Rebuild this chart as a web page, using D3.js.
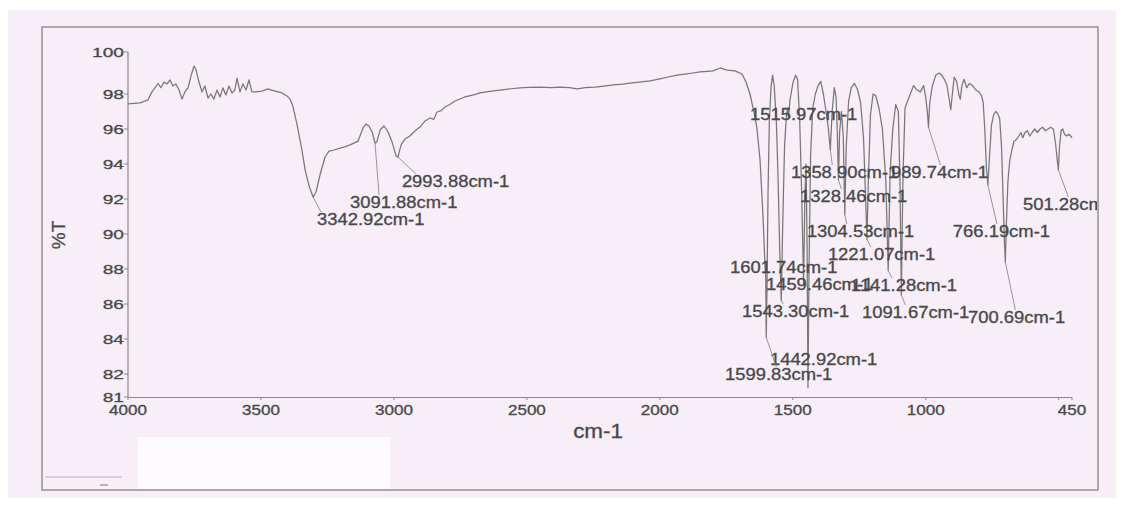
<!DOCTYPE html>
<html><head><meta charset="utf-8">
<script src="https://cdn.jsdelivr.net/npm/d3@7"></script>
<style>
body{margin:0;background:#fff;}
svg{display:block;font-family:"Liberation Sans",Arial,sans-serif;}
</style>
</head><body>
<svg id="chart" width="1125" height="506"></svg>
<script>
// ---------- data ----------
const wavenumbers = [
 4000,3955,3925,3910,3898,3887,3876,3865,3853,3842,3831,3820,3808,3797,3786,3774,3763,3752,3744,3733,
 3722,3711,3699,3688,3677,3665,3654,3643,3632,3620,3609,3598,3590,3579,3568,3556,3545,3534,3519,3496,
 3474,3447,3421,3402,3391,3380,3364,3346,3334,3319,3304,3293,3278,3259,3244,3225,3203,3185,3165,3135,
 3116,3105,3094,3082,3071,3064,3052,3037,3022,3007,2992,2985,2973,2958,2940,2917,2902,2883,2864,2850,
 2838,2822,2808,2790,2770,2733,2700,2676,2640,2601,2560,2526,2490,2451,2410,2376,2340,2312,2280,2244,
 2210,2176,2140,2112,2070,2037,2000,1969,1935,1905,1875,1849,1820,1800,1773,1747,1717,1691,1676,1661,
 1646,1635,1623,1612,1604,1601.74,1599.83,1597,1593,1588,1582,1576,1570,1562,1555,1549,1543.30,1538,1531,1524,
 1519,1515.97,1511,1500,1490,1482,1474,1466,1459.46,1454,1450,1446,1442.92,1439,1433,1425,1415,1405,1395,1385,
 1375,1366,1358.90,1352,1344,1337,1332,1328.46,1324,1317,1310,1304.53,1299,1290,1280,1268,1256,1245,1234,1226,
 1221.07,1216,1208,1198,1188,1176,1163,1150,1141.28,1134,1124,1113,1103,1097,1091.67,1086,1078,1068,1058,1046,
 1034,1020,1008,1000,994,989.74,985,975,962,950,940,930,920,912,906,900,893,884,876,870,
 864,856,846,836,824,812,800,790,784,778,772,766.19,760,753,745,737,730,722,715,709,
 704,700.69,697,691,684,676,668,659,650,642,635,627,618,609,600,590,580,570,560,550,
 540,530,520,512,506,501.28,497,491,485,478,470,462,455,450
];
const transmittance = [
 97.43,97.49,97.66,98.10,98.30,98.50,98.30,98.57,98.48,98.67,98.38,98.48,98.19,97.71,98.10,98.30,98.86,99.33,99.14,98.57,
 98.10,98.38,97.77,98.00,97.71,98.19,97.83,98.29,97.94,98.38,98.05,98.19,98.76,98.10,98.48,98.19,98.67,98.10,98.10,98.14,
 98.24,98.14,98.05,97.89,97.71,97.31,96.23,94.80,93.66,92.74,92.11,92.40,93.37,94.40,94.74,94.80,94.91,94.98,95.09,95.31,
 96.06,96.29,96.17,95.83,95.20,95.26,95.94,96.17,95.83,95.26,94.46,94.40,95.09,95.43,95.60,95.94,96.11,96.46,96.63,96.55,
 96.97,97.05,97.26,97.40,97.60,97.83,97.95,98.05,98.12,98.19,98.25,98.29,98.31,98.33,98.30,98.33,98.30,98.24,98.30,98.33,
 98.38,98.43,98.47,98.52,98.58,98.62,98.72,98.81,98.90,98.95,99.00,99.05,99.08,99.10,99.24,99.14,99.10,98.95,98.57,98.00,
 96.97,96.06,94.20,91.00,88.00,87.50,84.10,87.00,92.50,96.50,98.30,98.90,98.40,96.50,93.00,89.00,86.20,90.50,95.00,96.80,
 97.20,96.60,97.60,98.50,98.90,98.70,96.50,92.00,87.10,92.50,94.00,89.00,81.40,88.00,94.50,97.20,98.00,98.40,98.60,98.00,
 97.00,96.00,94.80,97.00,98.30,97.80,95.50,93.10,95.80,97.00,95.50,91.10,95.00,97.60,98.30,98.50,98.20,97.50,95.50,92.00,
 89.70,93.00,96.80,98.00,97.90,97.20,96.00,93.00,87.90,93.50,96.00,97.40,97.00,93.00,86.50,93.00,97.20,97.60,98.00,98.40,
 98.20,98.10,98.40,97.80,97.00,96.10,97.50,98.40,98.90,99.00,98.90,98.70,98.40,97.70,97.10,98.00,98.80,98.60,98.00,97.70,
 98.40,98.70,98.30,98.50,98.40,98.20,98.10,97.90,97.50,96.00,93.80,92.80,94.50,96.20,96.80,97.00,96.90,96.60,95.00,92.00,
 89.50,88.40,90.50,93.00,94.20,94.80,95.30,95.40,95.60,95.80,95.50,95.80,95.90,95.60,95.80,96.00,95.80,96.00,96.10,95.90,
 96.00,96.10,96.00,95.20,94.30,93.66,95.00,95.90,96.00,95.70,95.60,95.70,95.60,95.50
];
const xTickValues = [4000, 3500, 3000, 2500, 2000, 1500, 1000, 500, 450];
const xTickLabels = ["4000", "3500", "3000", "2500", "2000", "1500", "1000", "", "450"];
const yTickValues = [100, 98, 96, 94, 92, 90, 88, 86, 84, 82, 81];
const yTickLabels = ["100", "98", "96", "94", "92", "90", "88", "86", "84", "82", "81"];
const peakWavenumbers = [3342.92, 3091.88, 2993.88, 1515.97, 1358.90, 989.74, 1328.46, 1304.53, 1221.07,
  1601.74, 1459.46, 1141.28, 1543.30, 1091.67, 700.69, 766.19, 501.28, 1442.92, 1599.83];
const peakLabels = ["3342.92cm-1", "3091.88cm-1", "2993.88cm-1", "1515.97cm-1", "1358.90cm-1", "989.74cm-1",
  "1328.46cm-1", "1304.53cm-1", "1221.07cm-1", "1601.74cm-1", "1459.46cm-1", "1141.28cm-1", "1543.30cm-1",
  "1091.67cm-1", "700.69cm-1", "766.19cm-1", "501.28cm-1", "1442.92cm-1", "1599.83cm-1"];
const xTitle = "cm-1";
const yTitle = "%T";

// ---------- layout (label anchors in data units, leader lean in px) ----------
const labelAnchorWn = [3289, 3165, 2970, 1661, 1507, 1131, 1473, 1447, 1368, 1736, 1601, 1281, 1691, 1240, 841, 898, 634, 1586, 1755];
const labelAnchorT  = [90.51, 91.49, 92.69, 96.51, 93.2, 93.2, 91.83, 89.83, 88.51, 87.77, 86.8, 86.74, 85.26, 85.2, 84.91, 89.83, 91.37, 82.51, 81.74];
const leaderLean    = [8, 4, 18, null, 2, 12, 3, 2, 4, null, 3, 4, 2, 4, 10, 9, 10, null, 10];

// ---------- drawing ----------
const svg = d3.select("#chart");
const W = 1125, H = 506;

svg.append("rect").attr("x", 0).attr("y", 0).attr("width", W).attr("height", H).attr("fill", "#ffffff");
svg.append("rect").attr("x", 8).attr("y", 10).attr("width", 1108).attr("height", 488).attr("fill", "#f7eef8");
svg.append("rect").attr("x", 42).attr("y", 27).attr("width", 1056).attr("height", 463)
  .attr("fill", "none").attr("stroke", "#7a7a7a").attr("stroke-width", 1.2);
svg.append("rect").attr("x", 138).attr("y", 437).attr("width", 252).attr("height", 52).attr("fill", "#fdfbfd");
svg.append("line").attr("x1", 45).attr("x2", 122).attr("y1", 477).attr("y2", 477).attr("stroke", "#b5b0b6").attr("stroke-width", 1);
svg.append("line").attr("x1", 100).attr("x2", 108).attr("y1", 485).attr("y2", 485).attr("stroke", "#8f8a90").attr("stroke-width", 1.2);

const x = d3.scaleLinear().domain([4000, 450]).range([128, 1072]);
const y = d3.scaleLinear().domain([81, 82, 98, 100]).range([397, 374, 94, 52]);

const defs = svg.append("defs");
defs.append("clipPath").attr("id", "frameClip").append("rect")
  .attr("x", 42).attr("y", 27).attr("width", 1055).attr("height", 463);
const grad = defs.append("linearGradient").attr("id", "greenFade").attr("x1", "0%").attr("x2", "100%");
grad.append("stop").attr("offset", "0%").attr("stop-color", "#9fcf86").attr("stop-opacity", 0.95);
grad.append("stop").attr("offset", "40%").attr("stop-color", "#b3d79a").attr("stop-opacity", 0.6);
grad.append("stop").attr("offset", "60%").attr("stop-color", "#c8c8c8").attr("stop-opacity", 0.2);
grad.append("stop").attr("offset", "85%").attr("stop-color", "#e6ea9a").attr("stop-opacity", 0.7);
grad.append("stop").attr("offset", "100%").attr("stop-color", "#e6ea9a").attr("stop-opacity", 0.0);

const textCol = "#484848";
const lineCol = "#777777";

const y0 = y(81);
svg.append("line").attr("x1", x(4000)).attr("x2", x(4000)).attr("y1", y(100)).attr("y2", y0)
  .attr("stroke", "#8a8a8a").attr("stroke-width", 1.2);
svg.append("line").attr("x1", x(4000)).attr("x2", x(450)).attr("y1", y0 + 0.5).attr("y2", y0 + 0.5)
  .attr("stroke", "#8a8a8a").attr("stroke-width", 1.2);
svg.append("line").attr("x1", x(4000)).attr("x2", x(600)).attr("y1", y0 - 1).attr("y2", y0 - 1)
  .attr("stroke", "url(#greenFade)").attr("stroke-width", 2.2);

function styled(t) {
  return t.attr("fill", textCol).attr("stroke", textCol).attr("stroke-width", 0.3);
}

yTickValues.forEach((v, i) => {
  svg.append("line").attr("x1", x(4000) - 4).attr("x2", x(4000)).attr("y1", y(v)).attr("y2", y(v))
    .attr("stroke", "#8a8a8a").attr("stroke-width", 1);
  styled(svg.append("text").attr("transform", `translate(${x(4000) - 4},${y(v) + 5}) scale(1.42,1)`)
    .attr("text-anchor", "end").attr("font-size", 13.5)).text(yTickLabels[i]);
});
xTickValues.forEach((v, i) => {
  svg.append("line").attr("x1", x(v)).attr("x2", x(v)).attr("y1", y0).attr("y2", y0 + 3)
    .attr("stroke", "#8a8a8a").attr("stroke-width", 1);
  if (xTickLabels[i]) {
    styled(svg.append("text").attr("transform", `translate(${x(v)},${y0 + 18}) scale(1.22,1)`)
      .attr("text-anchor", "middle").attr("font-size", 14)).text(xTickLabels[i]);
  }
});
styled(svg.append("text").attr("transform", `translate(${(x(4000) + x(450)) / 2 - 2},438) scale(1.12,1)`)
  .attr("text-anchor", "middle").attr("font-size", 20)).text(xTitle);
styled(svg.append("text").attr("transform", `translate(65,235) rotate(-90)`)
  .attr("text-anchor", "middle").attr("font-size", 19)).text(yTitle);

const pts = wavenumbers.map((w, i) => [w, transmittance[i]]);
const line = d3.line().x(d => x(d[0])).y(d => y(d[1]));
const g = svg.append("g").attr("clip-path", "url(#frameClip)");
g.append("path").attr("d", line(pts)).attr("fill", "none").attr("stroke", lineCol)
  .attr("stroke-width", 1.25).attr("stroke-linejoin", "round");

peakWavenumbers.forEach((pw, i) => {
  const win = pw > 2500 ? 45 : 1.5;
  let best = null;
  pts.forEach(p => { if (Math.abs(p[0] - pw) <= win && (!best || p[1] < best[1])) best = p; });
  const lx = x(labelAnchorWn[i]), ly = y(labelAnchorT[i]);
  if (leaderLean[i] !== null && best) {
    const px = x(best[0]), py = y(best[1]);
    const ey = ly - 13;
    if (py < ey - 3) {
      g.append("line").attr("x1", px).attr("y1", py).attr("x2", px + leaderLean[i]).attr("y2", ey)
        .attr("stroke", "#8a8a8a").attr("stroke-width", 0.9);
    }
  }
  styled(g.append("text").attr("transform", `translate(${lx},${ly}) scale(1.15,1)`)
    .attr("font-size", 16)).text(peakLabels[i]);
});
</script>
</body></html>
